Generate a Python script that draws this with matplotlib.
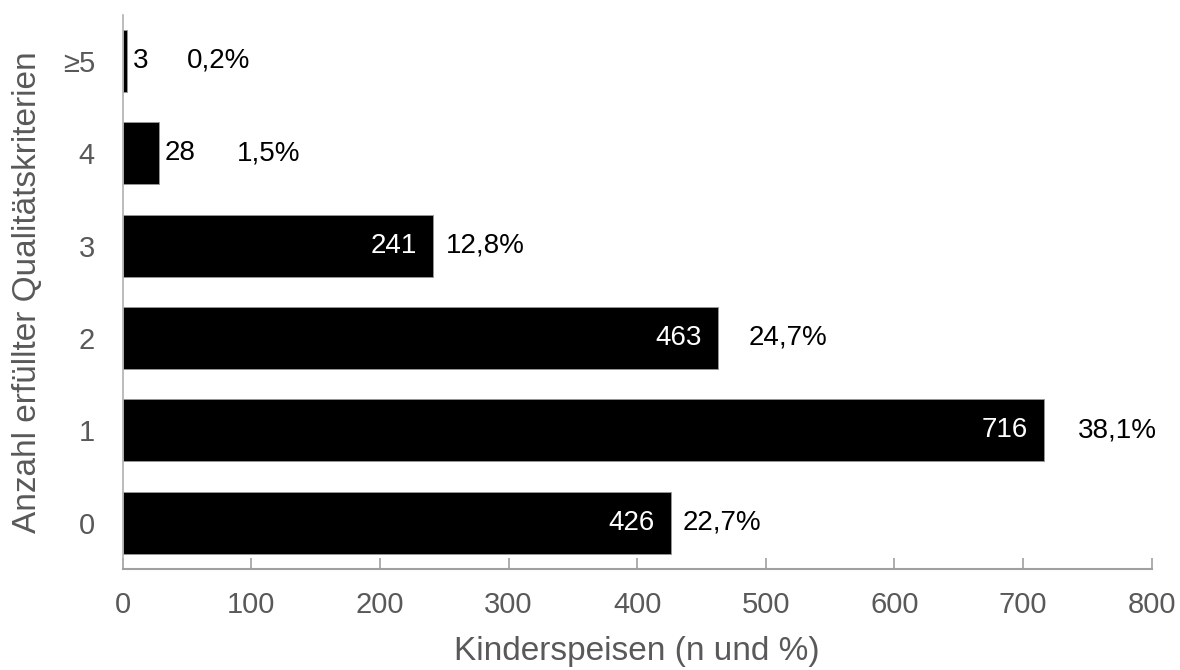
import matplotlib.pyplot as plt

plt.rcParams['font.family'] = ['Liberation Sans', 'DejaVu Sans']

categories = ['0', '1', '2', '3', '4', '≥5']
counts = [426, 716, 463, 241, 28, 3]
percents = ['22,7%', '38,1%', '24,7%', '12,8%', '1,5%', '0,2%']
# gap (pixels) between bar end and percent label, as in the original
pct_gap = [12, 34, 30, 13, 78, 60]

grey = '#595959'
fig = plt.figure(figsize=(11.8, 6.7), dpi=100)
ax = fig.add_axes([0.104, 0.151, 0.872, 0.827])

pos = list(range(len(categories)))
ax.barh(pos, counts, height=0.67, color='black', edgecolor='#999999', linewidth=0.6)

for p, n, pct, g in zip(pos, counts, percents, pct_gap):
    if n > 100:
        ax.annotate(str(n), (n, p), xytext=(-16, 0), textcoords='offset pixels',
                    ha='right', va='center', color='white', fontsize=20)
    else:
        ax.annotate(str(n), (n, p), xytext=(6, 0), textcoords='offset pixels',
                    ha='left', va='center', color='black', fontsize=20)
    ax.annotate(pct, (n, p), xytext=(g, 0), textcoords='offset pixels',
                ha='left', va='center', color='black', fontsize=20)

ax.set_xlim(0, 800)
ax.set_ylim(-0.5, 5.5)
ax.set_xticks(range(0, 801, 100))
ax.set_yticks(pos)
ax.set_yticklabels(categories)

for s in ['top', 'right']:
    ax.spines[s].set_visible(False)
ax.spines['left'].set_color('#b0b0b0')
ax.spines['bottom'].set_color('#a0a0a0')
ax.spines['left'].set_linewidth(1.2)
ax.spines['bottom'].set_linewidth(1.5)

ax.tick_params(axis='x', direction='in', length=8, width=1.2, color='#a0a0a0',
               labelsize=21, labelcolor=grey, pad=16)
ax.tick_params(axis='y', length=0, labelsize=21, labelcolor=grey, pad=20)

ax.set_xlabel('Kinderspeisen (n und %)', fontsize=24, color=grey, labelpad=12)
ax.set_ylabel('Anzahl erfüllter Qualitätskriterien', fontsize=24, color=grey, labelpad=14)

plt.savefig('out.png', dpi=100)
